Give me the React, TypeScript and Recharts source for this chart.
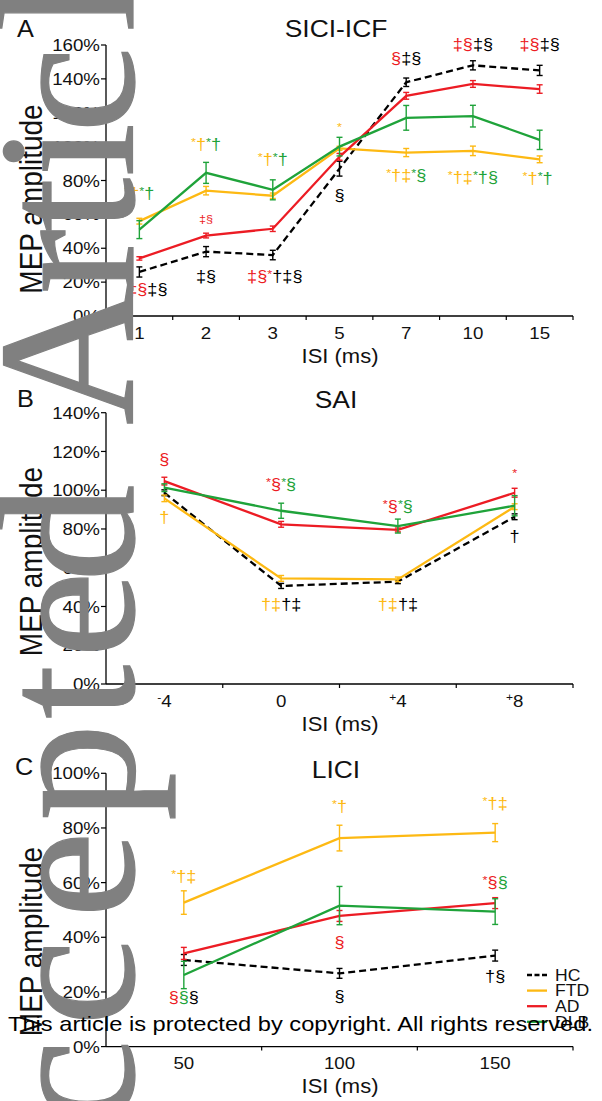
import React from "react";
import { LineChart, Line, XAxis, YAxis, ErrorBar, ReferenceDot } from "recharts";

const SANS = "'Liberation Sans', Arial, Helvetica, sans-serif";
const SERIF = "'Liberation Serif', 'Times New Roman', serif";
const SX = 1.1; // the original type is a little wider than Arial

const HC = "#000000";
const FTD = "#FDB913";
const AD = "#EC1C24";
const DLB = "#1FA33A";

const GROUPS = [
  { key: "hc", name: "HC", color: HC, dash: "7 4" },
  { key: "ftd", name: "FTD", color: FTD, dash: undefined },
  { key: "ad", name: "AD", color: AD, dash: undefined },
  { key: "dlb", name: "DLB", color: DLB, dash: undefined },
];

// A - SICI-ICF
const catsA = ["1", "2", "3", "5", "7", "10", "15"];
const yTicksA = [0, 20, 40, 60, 80, 100, 120, 140, 160];
const hcA = [26, 38, 36, 87, 138, 148, 145];
const hcErrA = [3, 3, 2.8, 4.4, 2.5, 2.7, 3];
const ftdA = [56, 74, 71, 99, 96.5, 97.5, 92.5];
const ftdErrA = [1.7, 2.5, 1.6, 1.2, 2.4, 2.8, 2];
const adA = [34, 47.5, 51.5, 94, 130, 137, 134];
const adErrA = [1, 1.4, 1.6, 2, 2, 2, 2.5];
const dlbA = [51, 84.5, 74.5, 100, 117, 118, 104];
const dlbErrA = [5.3, 6.2, 5.9, 5.5, 7.3, 6.4, 5.7];

// B - SAI
const catsB = ["-4", "0", "+4", "+8"];
const yTicksB = [0, 20, 40, 60, 80, 100, 120, 140];
const hcB = [98.7, 50.6, 52.8, 86.3];
const hcErrB = [1.5, 1.3, 1, 1.5];
const ftdB = [95.8, 54.5, 54, 91.5];
const ftdErrB = [1.7, 1.5, 1.2, 1.5];
const adB = [104.7, 82.4, 79.5, 98.7];
const adErrB = [2, 1.5, 1, 2.3];
const dlbB = [101.3, 89.4, 81.5, 92];
const dlbErrB = [2, 3.9, 3.6, 5.2];

// C - LICI
const catsC = ["50", "100", "150"];
const yTicksC = [0, 20, 40, 60, 80, 100];
const hcC = [31.7, 26.8, 33.3];
const hcErrC = [2, 1.8, 2];
const ftdC = [52.7, 76.3, 78.3];
const ftdErrC = [4.3, 4.7, 3.3];
const adC = [34.1, 47.8, 52.5];
const adErrC = [2.2, 2, 2];
const dlbC = [26.2, 51.6, 49.4];
const dlbErrC = [5, 7, 4.7];

type Note = { at: number; y: number; dx?: number; small?: boolean; parts: [string, string][] };

const notesA: Note[] = [
  { at: 0, y: 72, parts: [["*†", FTD], ["*†", DLB]] },
  { at: 0, y: 15.3, dx: 8, parts: [["‡§", AD], ["‡§", HC]] },
  { at: 1, y: 100.5, parts: [["*†", FTD], ["*†", DLB]] },
  { at: 1, y: 56.7, small: true, parts: [["‡§", AD]] },
  { at: 1, y: 23, parts: [["‡§", HC]] },
  { at: 2, y: 92, parts: [["*†", FTD], ["*†", DLB]] },
  { at: 2, y: 23, dx: 2, parts: [["‡§*", AD], ["†‡§", HC]] },
  { at: 3, y: 109.8, parts: [["*", FTD]] },
  { at: 3, y: 70.8, parts: [["§", HC]] },
  { at: 4, y: 151.5, parts: [["§", AD], ["‡§", HC]] },
  { at: 4, y: 82.5, parts: [["*†‡", FTD], ["*§", DLB]] },
  { at: 5, y: 160, parts: [["‡§", AD], ["‡§", HC]] },
  { at: 5, y: 81.5, parts: [["*†‡", FTD], ["*†§", DLB]] },
  { at: 6, y: 160, parts: [["‡§", AD], ["‡§", HC]] },
  { at: 6, y: 80.5, dx: -2, parts: [["*†", FTD], ["*†", DLB]] },
];

const notesB: Note[] = [
  { at: 0, y: 115.6, parts: [["§", AD]] },
  { at: 0, y: 85.7, parts: [["†", FTD]] },
  { at: 1, y: 102.7, parts: [["*§", AD], ["*§", DLB]] },
  { at: 1, y: 40.8, parts: [["†‡", FTD], ["†‡", HC]] },
  { at: 2, y: 91.3, parts: [["*§", AD], ["*§", DLB]] },
  { at: 2, y: 40.8, parts: [["†‡", FTD], ["†‡", HC]] },
  { at: 3, y: 107.3, parts: [["*", AD]] },
  { at: 3, y: 75.9, parts: [["†", HC]] },
];

const notesC: Note[] = [
  { at: 0, y: 62.1, parts: [["*†‡", FTD]] },
  { at: 0, y: 17.8, parts: [["§", AD], ["§", DLB], ["§", HC]] },
  { at: 1, y: 87.4, parts: [["*†", FTD]] },
  { at: 1, y: 37.9, parts: [["§", AD]] },
  { at: 1, y: 18.1, parts: [["§", HC]] },
  { at: 2, y: 88.5, parts: [["*†‡", FTD]] },
  { at: 2, y: 59.9, parts: [["*§", AD], ["§", DLB]] },
  { at: 2, y: 25.5, parts: [["†§", HC]] },
];

// where each letter of the vertical watermark begins (page y, read bottom-up)
const WATERMARK = "Accepted Article";
const watermarkStarts = [1267, 1126, 1026, 918, 821, 719, 658, 582, 484, 425, 294, 232, 177, 133, 32, -22];

function NoteText({ cx, cy, note }: { cx: number; cy: number; note: Note }) {
  if (cx == null || cy == null) return null;
  const fs = note.small ? 11.5 : 16.5;
  const starFs = fs * 0.7;
  const lift = fs * 0.24;
  const spans: React.ReactNode[] = [];
  let raised = false;
  note.parts.forEach(([txt, color]) => {
    for (const ch of txt) {
      const star = ch === "*";
      let dy = 0;
      if (star && !raised) {
        dy = -lift;
        raised = true;
      } else if (!star && raised) {
        dy = lift;
        raised = false;
      }
      spans.push(
        <tspan key={spans.length} fill={color} fontSize={star ? starFs : fs} dy={dy || undefined}>
          {ch}
        </tspan>
      );
    }
  });
  return (
    <text
      transform={`translate(${cx + (note.dx || 0)},${cy + fs * 0.28}) scale(${SX},1)`}
      textAnchor="middle"
      fontFamily={SANS}
    >
      {spans}
    </text>
  );
}

function XTick(props: any) {
  const { x, y, payload, cats } = props;
  const v = payload.value;
  if (!Number.isInteger(v)) {
    return <line x1={x} x2={x} y1={y} y2={y + 4} stroke="#000" strokeWidth={1.2} />;
  }
  const label: string = cats[v];
  const sign = label[0] === "+" || label[0] === "-" ? label[0] : "";
  const rest = sign ? label.slice(1) : label;
  return (
    <text transform={`translate(${x},${y + 22.5}) scale(${SX},1)`} textAnchor="middle" fontFamily={SANS} fill="#111">
      {sign && (
        <tspan fontSize={11} dy={-6}>
          {sign}
        </tspan>
      )}
      <tspan fontSize={17} dy={sign ? 6 : undefined}>
        {rest}
      </tspan>
    </text>
  );
}

function YTick(props: any) {
  const { x, y, payload } = props;
  return (
    <text
      transform={`translate(${x},${y}) scale(${SX},1)`}
      textAnchor="end"
      dy="0.36em"
      fontFamily={SANS}
      fontSize={17}
      fill="#111"
    >
      {payload.value}%
    </text>
  );
}

function Panel({
  top,
  height,
  plotTop,
  plotBottom,
  cats,
  yTicks,
  vals,
  errs,
  notes,
}: {
  top: number;
  height: number;
  plotTop: number;
  plotBottom: number;
  cats: string[];
  yTicks: number[];
  vals: Record<string, number[]>;
  errs: Record<string, number[]>;
  notes: Note[];
}) {
  const rows = cats.map((c, i) => {
    const r: any = { i, cat: c };
    GROUPS.forEach((g) => {
      r[g.key] = vals[g.key][i];
      r[g.key + "Err"] = errs[g.key][i];
    });
    return r;
  });
  const xTicks: number[] = [];
  cats.forEach((_, k) => xTicks.push(k, k + 0.5));

  return (
    <div style={{ position: "absolute", left: 0, top }}>
      <LineChart
        width={602}
        height={height}
        data={rows}
        margin={{ top: plotTop, right: 29, bottom: height - plotBottom - 30, left: 0 }}
      >
        <XAxis
          type="number"
          dataKey="i"
          domain={[-0.5, cats.length - 0.5]}
          ticks={xTicks}
          interval={0}
          height={30}
          tickSize={0}
          tickMargin={0}
          tickLine={false}
          axisLine={{ stroke: "#000", strokeWidth: 1.3 }}
          tick={(p: any) => <XTick {...p} cats={cats} />}
        />
        <YAxis
          type="number"
          domain={[0, yTicks[yTicks.length - 1]]}
          ticks={yTicks}
          interval={0}
          width={106}
          tickSize={5}
          tickMargin={1}
          tickLine={{ stroke: "#000", strokeWidth: 1.2 }}
          axisLine={{ stroke: "#000", strokeWidth: 1.3 }}
          tick={(p: any) => <YTick {...p} />}
        />
        {GROUPS.map((g) => (
          <Line
            key={g.key}
            dataKey={g.key}
            type="linear"
            stroke={g.color}
            strokeWidth={2.3}
            strokeDasharray={g.dash}
            dot={false}
            activeDot={false}
            isAnimationActive={false}
          >
            <ErrorBar dataKey={g.key + "Err"} width={3} stroke={g.color} strokeWidth={1.4} direction="y" />
          </Line>
        ))}
        {notes.map((n, k) => (
          <ReferenceDot
            key={k}
            x={n.at}
            y={n.y}
            r={0}
            ifOverflow="visible"
            shape={(p: any) => <NoteText cx={p.cx} cy={p.cy} note={n} />}
          />
        ))}
      </LineChart>
    </div>
  );
}

function Txt({ x, y, size, anchor = "start", children }: any) {
  return (
    <text
      transform={`translate(${x},${y}) scale(${SX},1)`}
      textAnchor={anchor}
      fontFamily={SANS}
      fontSize={size}
      fill="#111"
    >
      {children}
    </text>
  );
}

function YLabel({ cy }: { cy: number }) {
  return (
    <text
      transform={`translate(42,${cy}) scale(${SX},1) rotate(-90)`}
      textAnchor="middle"
      fontFamily={SANS}
      fontSize={28}
      fill="#111"
    >
      MEP amplitude
    </text>
  );
}

export default function App() {
  return (
    <div style={{ position: "absolute", left: 0, top: 0, width: 602, height: 1101, background: "#fff", overflow: "hidden" }}>
      <Panel
        top={0}
        height={400}
        plotTop={45}
        plotBottom={316}
        cats={catsA}
        yTicks={yTicksA}
        vals={{ hc: hcA, ftd: ftdA, ad: adA, dlb: dlbA }}
        errs={{ hc: hcErrA, ftd: ftdErrA, ad: adErrA, dlb: dlbErrA }}
        notes={notesA}
      />
      <Panel
        top={360}
        height={400}
        plotTop={52.7}
        plotBottom={324}
        cats={catsB}
        yTicks={yTicksB}
        vals={{ hc: hcB, ftd: ftdB, ad: adB, dlb: dlbB }}
        errs={{ hc: hcErrB, ftd: ftdErrB, ad: adErrB, dlb: dlbErrB }}
        notes={notesB}
      />
      <Panel
        top={720}
        height={381}
        plotTop={53.3}
        plotBottom={326.6}
        cats={catsC}
        yTicks={yTicksC}
        vals={{ hc: hcC, ftd: ftdC, ad: adC, dlb: dlbC }}
        errs={{ hc: hcErrC, ftd: ftdErrC, ad: adErrC, dlb: dlbErrC }}
        notes={notesC}
      />

      <svg width={602} height={1101} style={{ position: "absolute", left: 0, top: 0, pointerEvents: "none" }}>
        {/* titles */}
        <Txt x={336} y={37.3} size={24} anchor="middle">SICI-ICF</Txt>
        <Txt x={336} y={408} size={24} anchor="middle">SAI</Txt>
        <Txt x={336} y={778} size={24} anchor="middle">LICI</Txt>

        {/* axis titles */}
        <YLabel cy={199} />
        <YLabel cy={561.5} />
        <YLabel cy={941.5} />
        <Txt x={340} y={362.5} size={20} anchor="middle">ISI (ms)</Txt>
        <Txt x={340} y={730.5} size={20} anchor="middle">ISI (ms)</Txt>
        <Txt x={340} y={1093} size={20} anchor="middle">ISI (ms)</Txt>

        {/* legend */}
        {GROUPS.map((g, k) => {
          const cy = 975 + k * 15.6;
          return (
            <g key={g.key}>
              <line
                x1={527}
                x2={547}
                y1={cy}
                y2={cy}
                stroke={g.color}
                strokeWidth={2.3}
                strokeDasharray={g.dash ? "5 2.5" : undefined}
              />
              <Txt x={555} y={cy + 5.8} size={16}>
                {g.name}
              </Txt>
            </g>
          );
        })}

        {/* watermark */}
        <text
          transform="translate(133,0) rotate(-90)"
          x={watermarkStarts.map((s) => -s).join(" ")}
          fontFamily={SERIF}
          fontSize={195}
          fill="#808080"
          stroke="#808080"
          strokeWidth={1.2}
        >
          {WATERMARK}
        </text>

        {/* panel letters sit above the watermark */}
        <Txt x={17} y={37} size={23}>A</Txt>
        <Txt x={17} y={407} size={23}>B</Txt>
        <Txt x={15} y={775} size={23}>C</Txt>

        <text
          x={8}
          y={1031}
          fontFamily={SANS}
          fontSize={21}
          textLength={585}
          lengthAdjust="spacingAndGlyphs"
          fill="#000"
        >
          This article is protected by copyright. All rights reserved.
        </text>
      </svg>
    </div>
  );
}
